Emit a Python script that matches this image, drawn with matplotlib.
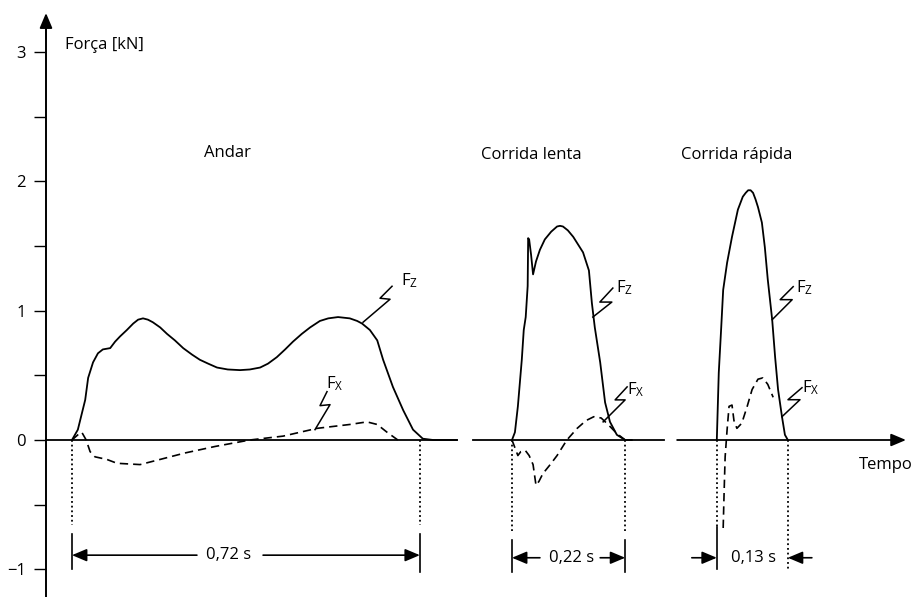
import matplotlib
matplotlib.use('Agg')
import matplotlib.pyplot as plt

plt.rcParams['font.family'] = ['Open Sans', 'DejaVu Sans']

# ---- values (time in s, force in kN) ----
andar_t = [0.053, 0.065, 0.080, 0.086, 0.096, 0.106, 0.116, 0.131, 0.141, 0.151,
           0.165, 0.178, 0.188, 0.198, 0.208, 0.218, 0.233, 0.247, 0.263, 0.280,
           0.298, 0.314, 0.331, 0.349, 0.371, 0.396, 0.416, 0.437, 0.453, 0.471,
           0.488, 0.504, 0.522, 0.539, 0.559, 0.576, 0.596, 0.620, 0.635, 0.645,
           0.661, 0.676, 0.688, 0.708, 0.729, 0.749, 0.769, 0.790, 0.839]
andar_fz = [0.0, 0.08, 0.31, 0.48, 0.60, 0.67, 0.70, 0.71, 0.76, 0.80,
            0.85, 0.90, 0.93, 0.94, 0.93, 0.91, 0.87, 0.82, 0.77, 0.71,
            0.66, 0.62, 0.59, 0.56, 0.545, 0.54, 0.545, 0.56, 0.59, 0.64,
            0.70, 0.76, 0.82, 0.87, 0.92, 0.94, 0.95, 0.94, 0.92, 0.90,
            0.85, 0.77, 0.62, 0.41, 0.23, 0.08, 0.01, 0.0, 0.0]
andar_fx_t = [0.053, 0.065, 0.073, 0.082, 0.090, 0.100, 0.124, 0.145, 0.192, 0.233,
              0.284, 0.345, 0.416, 0.484, 0.553, 0.620, 0.655, 0.676, 0.696, 0.718]
andar_fx = [0.0, 0.04, 0.06, 0.0, -0.09, -0.13, -0.15, -0.18, -0.19, -0.15,
            -0.10, -0.05, 0.0, 0.03, 0.09, 0.12, 0.14, 0.12, 0.06, 0.0]

lenta_t = [0.951, 0.957, 0.963, 0.971, 0.975, 0.979, 0.983, 0.984, 0.986, 0.990,
           0.994, 1.000, 1.008, 1.018, 1.031, 1.043, 1.049, 1.055, 1.065, 1.076,
           1.086, 1.096, 1.108, 1.114, 1.120, 1.131, 1.141, 1.151, 1.165, 1.182,
           1.196]
lenta_fz = [0.0, 0.06, 0.26, 0.62, 0.85, 0.95, 1.19, 1.56, 1.55, 1.43,
            1.28, 1.38, 1.47, 1.55, 1.61, 1.65, 1.655, 1.65, 1.62, 1.57,
            1.51, 1.45, 1.31, 1.06, 0.87, 0.60, 0.29, 0.14, 0.04, 0.0,
            0.0]
lenta_fx_t = [0.951, 0.963, 0.969, 0.978, 0.986, 0.994, 1.000, 1.006, 1.014, 1.029,
              1.043, 1.063, 1.084, 1.102, 1.118, 1.133, 1.147, 1.165, 1.182]
lenta_fx = [0.0, -0.12, -0.09, -0.08, -0.12, -0.19, -0.35, -0.32, -0.26, -0.19,
            -0.12, 0.0, 0.09, 0.15, 0.18, 0.17, 0.12, 0.05, 0.0]

rapida_t = [1.369, 1.371, 1.373, 1.378, 1.382, 1.390, 1.400, 1.412, 1.422, 1.428,
            1.433, 1.438, 1.443, 1.448, 1.453, 1.461, 1.467, 1.473, 1.482, 1.488,
            1.494, 1.502, 1.508, 1.514]
rapida_fz = [0.0, 0.26, 0.52, 0.87, 1.16, 1.37, 1.57, 1.78, 1.88, 1.91,
             1.93, 1.93, 1.91, 1.86, 1.80, 1.68, 1.49, 1.24, 0.93, 0.64,
             0.39, 0.18, 0.04, 0.0]
rapida_fx_t = [1.382, 1.384, 1.386, 1.390, 1.394, 1.400, 1.404, 1.410, 1.420, 1.431,
               1.441, 1.453, 1.463, 1.473, 1.484]
rapida_fx = [-0.68, -0.39, -0.13, 0.08, 0.26, 0.27, 0.15, 0.09, 0.13, 0.26,
             0.39, 0.47, 0.48, 0.43, 0.33]

phases = ['Andar', 'Corrida lenta', 'Corrida rápida']
durations = ['0,72 s', '0,22 s', '0,13 s']
contact_start = [0.053, 0.951, 1.369]
contact_end = [0.763, 1.182, 1.514]

yticks = [-1, 0, 1, 2, 3]
yticklabels = ['−1', '0', '1', '2', '3']

# ---- layout: the figure is mapped 1:1 onto pixels ----
PX_S = 490.0    # pixels per second
PX_KN = 129.4   # pixels per kN
X0, Y0 = 46, 440


def off(dx, dy):
    # pixel offset -> data offset
    return dx / PX_S, -dy / PX_KN


fig = plt.figure(figsize=(9.13, 5.97), dpi=100)
ax = fig.add_axes([0, 0, 1, 1])
ax.set_xlim(-X0 / PX_S, (913 - X0) / PX_S)
ax.set_ylim(-(597 - Y0) / PX_KN, Y0 / PX_KN)

for s in ['top', 'right', 'bottom']:
    ax.spines[s].set_visible(False)
ax.spines['left'].set_position(('data', 0))
ax.spines['left'].set_bounds(-1.3, 3.2)
ax.spines['left'].set_linewidth(1.4)
ax.set_xticks([])
ax.set_yticks(yticks)
ax.set_yticklabels(yticklabels)
ax.set_yticks([-0.5, 0.5, 1.5, 2.5], minor=True)
ax.tick_params(axis='y', which='both', direction='out', length=8.5, width=1.0,
               labelsize=12, pad=6)

head = '-|>,head_length=0.9,head_width=0.38'
akw = dict(arrowstyle=head, color='k', lw=1.2, shrinkA=0, shrinkB=0, mutation_scale=10)

# y axis arrow
ax.annotate('', xy=(0, 3.30), xytext=(0, 3.1), arrowprops=dict(akw, lw=1.4))

# baseline pieces + time arrow
ax.plot([0, 0.839], [0, 0], color='k', lw=1.3)
ax.plot([0.871, 1.261], [0, 0], color='k', lw=1.3)
ax.annotate('', xy=(1.755, 0), xytext=(1.288, 0), arrowprops=dict(akw, lw=1.3))

# curves
lkw = dict(color='k', lw=1.3, solid_joinstyle='round', solid_capstyle='round')
dkw = dict(color='k', lw=1.2, linestyle=(0, (5, 3)))
ax.plot(andar_t, andar_fz, **lkw)
ax.plot(andar_fx_t, andar_fx, **dkw)
ax.plot(lenta_t, lenta_fz, **lkw)
ax.plot(lenta_fx_t, lenta_fx, **dkw)
ax.plot(rapida_t, rapida_fz, **lkw)
ax.plot(rapida_fx_t, rapida_fx, **dkw)


def leader(t, f, path, label, lab):
    xs = [t + off(dx, dy)[0] for dx, dy in path]
    ys = [f + off(dx, dy)[1] for dx, dy in path]
    ax.plot(xs, ys, color='k', lw=1.1)
    lx, ly = off(*lab)
    ax.text(t + lx, f + ly, label, fontsize=12, ha='left', va='center')


FZ = r'$\mathregular{F_Z}$'
FX = r'$\mathregular{F_X}$'
leader(0.647, 0.91, [(0, 0), (27, -23), (17, -24), (29, -36)], FZ, (38, -42))
leader(0.549, 0.08, [(0, 0), (15, -25), (5, -24), (12, -38)], FX, (11, -46))
leader(1.116, 0.95, [(0, 0), (19, -15), (7, -15), (20, -29)], FZ, (23, -29))
leader(1.137, 0.14, [(0, 0), (22, -22), (12, -22), (24, -35)], FX, (24, -32))
leader(1.482, 0.93, [(0, 0), (20, -20), (8, -20), (21, -33)], FZ, (24, -32))
leader(1.502, 0.18, [(0, 0), (18, -17), (6, -17), (20, -29)], FX, (20, -29))

# contact-time brackets
dot = dict(color='k', lw=1.3, linestyle=(0, (1, 1.6)))
bar = dict(color='k', lw=1.2)

# Andar
ax.plot([0.053, 0.053], [0, -0.66], **dot)
ax.plot([0.763, 0.763], [0, -0.66], **dot)
ax.plot([0.053, 0.053], [-0.73, -1.0], **bar)
ax.plot([0.763, 0.763], [-0.73, -1.02], **bar)
ax.annotate('', xy=(contact_start[0], -0.89), xytext=(0.308, -0.89), arrowprops=akw)
ax.annotate('', xy=(contact_end[0], -0.89), xytext=(0.443, -0.89), arrowprops=akw)
ax.text(0.373, -0.89, durations[0], fontsize=12, ha='center', va='center')

# Corrida lenta
ax.plot([0.951, 0.951], [0, -0.70], **dot)
ax.plot([1.182, 1.182], [0, -0.70], **dot)
ax.plot([0.951, 0.951], [-0.77, -1.02], **bar)
ax.plot([1.182, 1.182], [-0.77, -1.02], **bar)
ax.annotate('', xy=(contact_start[1], -0.91), xytext=(1.008, -0.91), arrowprops=akw)
ax.annotate('', xy=(contact_end[1], -0.91), xytext=(1.131, -0.91), arrowprops=akw)
ax.text(1.073, -0.91, durations[1], fontsize=12, ha='center', va='center')

# Corrida rapida
ax.plot([1.369, 1.369], [0, -0.67], **dot)
ax.plot([1.369, 1.369], [-0.67, -1.0], **bar)
ax.plot([1.514, 1.514], [0, -1.0], **dot)
ax.annotate('', xy=(contact_start[2], -0.91), xytext=(1.318, -0.91), arrowprops=akw)
ax.annotate('', xy=(contact_end[2], -0.91), xytext=(1.563, -0.91), arrowprops=akw)
ax.text(1.443, -0.91, durations[2], fontsize=12, ha='center', va='center')

# titles
ax.text(0.039, 3.05, 'Força [kN]', fontsize=12, ha='left', va='center')
ax.text(0.371, 2.22, phases[0], fontsize=12, ha='center', va='center')
ax.text(0.990, 2.20, phases[1], fontsize=12, ha='center', va='center')
ax.text(1.410, 2.20, phases[2], fontsize=12, ha='center', va='center')
ax.text(1.714, -0.19, 'Tempo', fontsize=12, ha='center', va='center')

fig.savefig('out.png', dpi=100)
